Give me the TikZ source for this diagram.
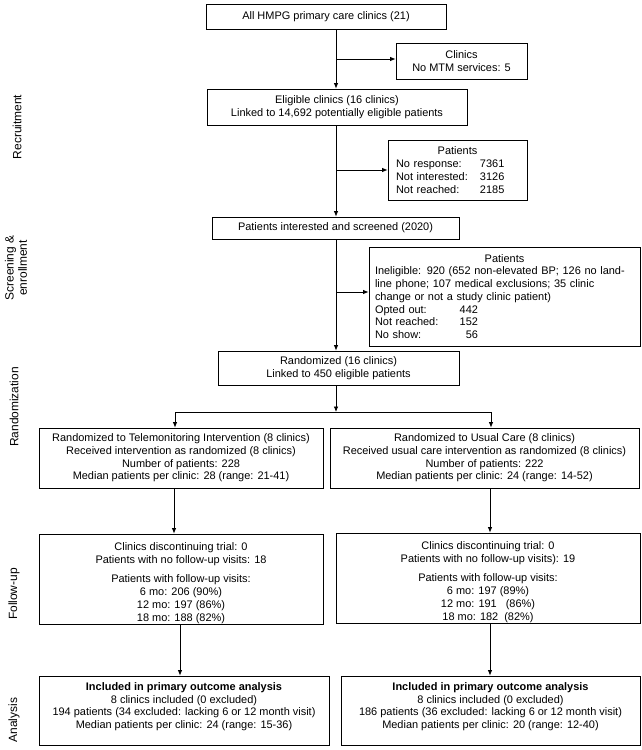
\documentclass[tikz,border=0pt]{standalone}
\usepackage{fontspec}
\setmainfont{Liberation Sans}
\usetikzlibrary{arrows.meta}
\newcommand\boxfont{\fontsize{11}{12.8}\selectfont}
\newcommand\labfont{\fontsize{12}{13.5}\selectfont}
\tikzset{
  box/.style={draw, line width=0.8bp, inner sep=0pt, align=center, font=\boxfont},
  arr/.style={-{Latex[length=5.5bp,width=4.5bp]}, line width=0.8bp},
  conn/.style={line width=0.8bp},
  lab/.style={rotate=90, font=\labfont, align=center, inner sep=0pt}
}
\begin{document}
\begin{tikzpicture}[x=1bp,y=-1bp]
\fill[white] (0,0) rectangle (642,750);
\useasboundingbox (0,0) rectangle (642,750);

% stage labels
\node[lab] (lrec) at (17,127) {Recruitment};
\node[lab] (lscr) at (16,268) {Screening \&\\enrollment};
\node[lab] (lran) at (14,407) {Randomization};
\node[lab] (lfol) at (14,594) {Follow-up};
\node[lab] (lana) at (14,720) {Analysis};

% main column
\node[box, minimum width=240bp, minimum height=25bp] (all) at (326,16.5) {All HMPG primary care clinics (21)};
\node[box, minimum width=131bp, minimum height=36bp] (clin) at (461.5,61) {Clinics\\No MTM services: 5};
\node[box, minimum width=260bp, minimum height=36bp] (elig) at (337,107) {Eligible clinics (16 clinics)\\Linked to 14,692 potentially eligible patients};
\node[box, minimum width=139bp, minimum height=60bp, align=left, text width=123bp] (pat1) at (457.5,170)
  {\makebox[123bp]{Patients}\\
   \mbox{\makebox[84bp][l]{No response:}7361}\\
   \mbox{\makebox[84bp][l]{Not interested:}3126}\\
   \mbox{\makebox[84bp][l]{Not reached:}2185}};
\node[box, minimum width=247bp, minimum height=22bp] (scr) at (335.5,228) {Patients interested and screened (2020)};
\node[box, minimum width=271bp, minimum height=99bp, align=left, text width=259bp] (pat2) at (504.5,296.5)
  {\makebox[259bp]{Patients}\\
   \mbox{Ineligible: 920 (652 non-elevated BP; 126 no land-}\\
   \mbox{line phone; 107 medical exclusions; 35 clinic}\\
   \mbox{change or not a study clinic patient)}\\
   \makebox[103bp]{Opted out:\hfill 442}\\
   \makebox[103bp]{Not reached:\hfill 152}\\
   \makebox[103bp]{No show:\hfill 56}};
\node[box, minimum width=241bp, minimum height=34bp] (rand) at (338.5,368) {Randomized (16 clinics)\\Linked to 450 eligible patients};

% arms
\node[box, minimum width=284bp, minimum height=60bp] (trtL) at (181,458)
  {Randomized to Telemonitoring Intervention (8 clinics)\\Received intervention as randomized (8 clinics)\\Number of patients: 228\\Median patients per clinic: 28 (range: 21-41)};
\node[box, minimum width=309bp, minimum height=60bp] (trtR) at (484.5,458)
  {Randomized to Usual Care (8 clinics)\\Received usual care intervention as randomized (8 clinics)\\Number of patients: 222\\Median patients per clinic: 24 (range: 14-52)};
\node[box, minimum width=284bp, minimum height=90bp] (fuL) at (181,579)
  {\rule{0pt}{16bp}Clinics discontinuing trial: 0\\Patients with no follow-up visits: 18\\[7bp]Patients with follow-up visits:\\6 mo: 206 (90\%)\\12 mo: 197 (86\%)\\18 mo: 188 (82\%)};
\node[box, minimum width=304bp, minimum height=90bp] (fuR) at (488,578)
  {\rule{0pt}{16bp}Clinics discontinuing trial: 0\\Patients with no follow-up visits): 19\\[7bp]Patients with follow-up visits:\\6 mo: 197 (89\%)\\12 mo: 191\hspace{9bp}(86\%)\\18 mo: 182\hspace{6bp}(82\%)};
\node[box, minimum width=290bp, minimum height=69bp] (anL) at (184,710.5)
  {\textbf{Included in primary outcome analysis}\\8 clinics included (0 excluded)\\194 patients (34 excluded: lacking 6 or 12 month visit)\\Median patients per clinic: 24 (range: 15-36)\rule[-10bp]{0pt}{0pt}};
\node[box, minimum width=299bp, minimum height=69bp] (anR) at (490.5,710.5)
  {\textbf{Included in primary outcome analysis}\\8 clinics included (0 excluded)\\186 patients (36 excluded: lacking 6 or 12 month visit)\\Median patients per clinic: 20 (range: 12-40)\rule[-10bp]{0pt}{0pt}};

% connector helper coordinates
\coordinate (mx) at (336,0);
\coordinate (b1) at (336,59);
\coordinate (b2) at (336,170);
\coordinate (b3) at (336,292);
\coordinate (sp) at (336,412);
\coordinate (sl) at (175,412);
\coordinate (sr) at (491,412);
\coordinate (xl1) at (174,0);
\coordinate (xl2) at (180,0);
\coordinate (xr) at (490,0);

% connectors
\draw[arr] (all.south -| mx) -- (elig.north -| mx);
\draw[arr] (b1) -- (b1 -| clin.west);
\draw[arr] (elig.south -| mx) -- (scr.north -| mx);
\draw[arr] (b2) -- (b2 -| pat1.west);
\draw[arr] (scr.south -| mx) -- (rand.north -| mx);
\draw[arr] (b3) -- (b3 -| pat2.west);
\draw[arr] (rand.south -| mx) -- (sp);
\draw[conn] (sl) -- (sr);
\draw[arr] (sl) -- (sl |- trtL.north);
\draw[arr] (sr) -- (sr |- trtR.north);
\draw[arr] (trtL.south -| xl1) -- (fuL.north -| xl1);
\draw[arr] (fuL.south -| xl2) -- (anL.north -| xl2);
\draw[arr] (trtR.south -| xr) -- (fuR.north -| xr);
\draw[arr] (fuR.south -| xr) -- (anR.north -| xr);
\end{tikzpicture}
\end{document}
